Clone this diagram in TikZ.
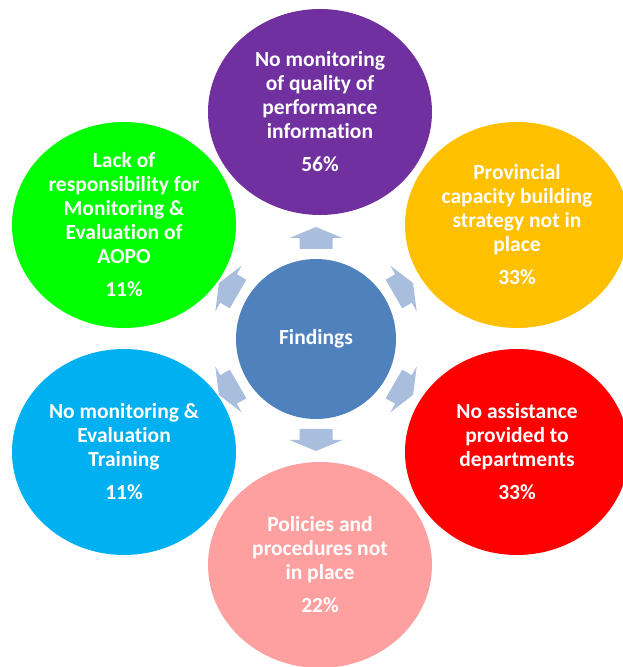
\documentclass[tikz,border=0pt]{standalone}
\usepackage{fontspec}
\setmainfont{Carlito}[Ligatures=NoCommon]
\usepackage{xcolor}
\usetikzlibrary{shapes.geometric}

\definecolor{findblue}{HTML}{4F81BD}
\definecolor{spokeblue}{HTML}{A9BEDC}
\definecolor{qpurple}{HTML}{7030A0}
\definecolor{qorange}{HTML}{FFC000}
\definecolor{qgreen}{HTML}{00FF00}
\definecolor{qcyan}{HTML}{00B0F0}
\definecolor{qred}{HTML}{FF0000}
\definecolor{qpink}{HTML}{FFA0A0}

\begin{document}
\begin{tikzpicture}[
x=1pt,y=1pt,
every node/.style={font=\bfseries\fontsize{21.5}{24}\selectfont,text=white,align=center},
finding/.style={ellipse,inner sep=0pt,minimum width=224pt,minimum height=206pt},
hub/.style={circle,fill=findblue,inner sep=0pt,minimum size=160pt},
spoke/.pic={\fill[spokeblue] (-11,-16.5) -- (0,-16.5) -- (0,-26.5) -- (11,0)
  -- (0,26.5) -- (0,16.5) -- (-11,16.5) -- cycle;}
]
\useasboundingbox (0,0) rectangle (623,667);

% Centre
\node[hub] (find) at (316,328) {Findings};

% Spokes
\foreach \a in {90,30,-30,-90,-150,150}
  \path (find.center) ++(\a:101) pic[rotate=\a]{spoke};

% Findings
\node[finding,fill=qpurple] (quality) at (320,555)
  {No monitoring\\of quality of\\performance\\information\\[9pt]56\%};
\node[finding,fill=qorange] (capacity) at (517,442)
  {Provincial\\capacity building\\strategy not in\\place\\[9pt]33\%};
\node[finding,fill=qred] (assist) at (517,215)
  {No assistance\\provided to\\departments\\[9pt]33\%};
\node[finding,fill=qpink] (policy) at (320,102)
  {Policies and\\procedures not\\in place\\[9pt]22\%};
\node[finding,fill=qcyan] (training) at (124,215)
  {No monitoring \&\\Evaluation\\Training\\[9pt]11\%};
\node[finding,fill=qgreen] (respons) at (124,442)
  {Lack of\\responsibility for\\Monitoring \&\\Evaluation of\\AOPO\\[9pt]11\%};

\end{tikzpicture}
\end{document}
